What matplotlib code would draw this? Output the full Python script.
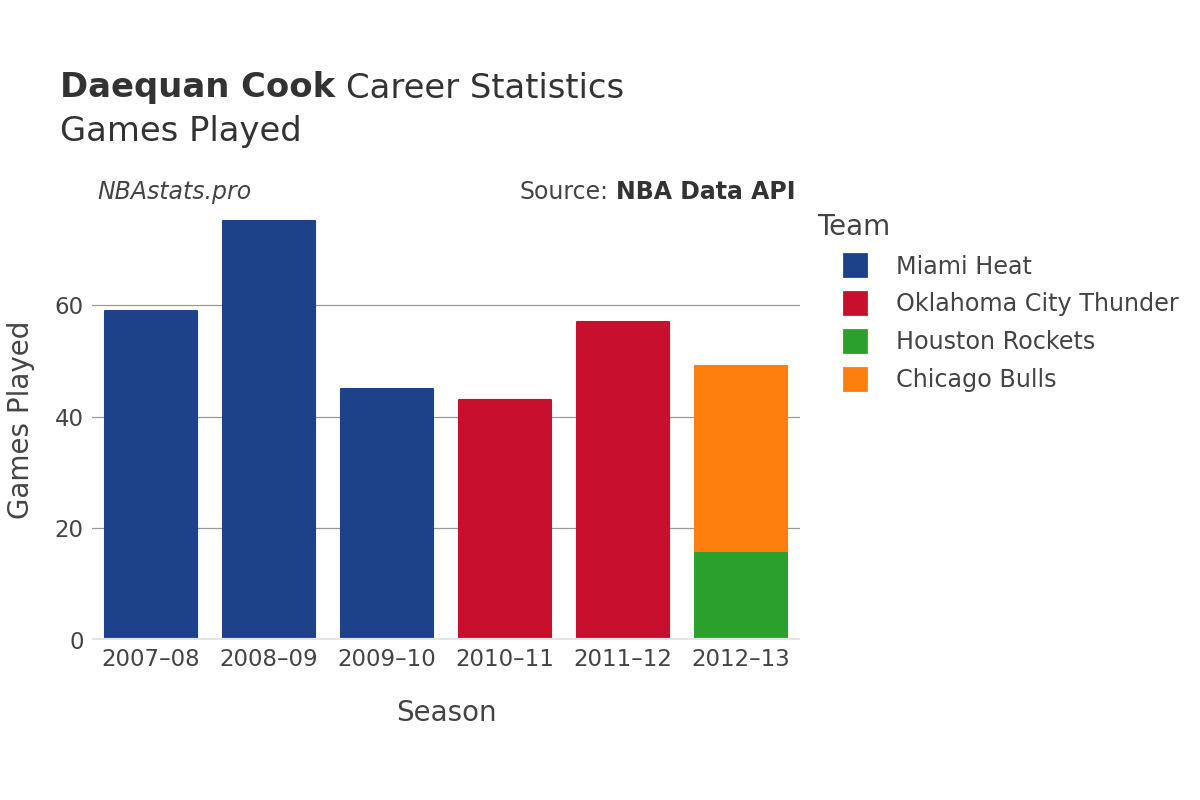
import matplotlib.pyplot as plt
from matplotlib.lines import Line2D

seasons = ["2007–08", "2008–09", "2009–10", "2010–11", "2011–12", "2012–13"]
teams = ["Miami Heat", "Oklahoma City Thunder", "Houston Rockets", "Chicago Bulls"]
colors = ["#1d428a", "#c8102e", "#2ca02c", "#ff7f0e"]
# games per team per season (0 = not with that team)
miami = [59, 75, 45, 0, 0, 0]
okc = [0, 0, 0, 43, 57, 0]
houston = [0, 0, 0, 0, 0, 16]
chicago = [0, 0, 0, 0, 0, 33]

fig = plt.figure(figsize=(12, 8), dpi=100)
ax = fig.add_axes([0.0767, 0.2, 0.59, 0.55])

bottom = [0] * len(seasons)
for vals, c in zip([miami, okc, houston, chicago], colors):
    xs = [i for i, v in enumerate(vals) if v > 0]
    hs = [vals[i] for i in xs]
    bs = [bottom[i] for i in xs]
    ax.bar(xs, hs, width=0.78, bottom=bs, color=c, edgecolor=c,
           linewidth=1.5, joinstyle="round", zorder=3)
    bottom = [b + v for b, v in zip(bottom, vals)]

ax.set_xlim(-0.5, 5.5)
ax.set_ylim(0, 78.8)
ax.set_yticks([0, 20, 40, 60])
ax.set_xticks(range(len(seasons)))
ax.set_xticklabels(seasons)
ax.grid(axis="y", color="#999999", linewidth=0.9, zorder=0)
ax.axhline(0, color="#e5e5e5", linewidth=3, zorder=4)
for s in ax.spines.values():
    s.set_visible(False)
ax.tick_params(length=0, labelsize=16.5, colors="#444444", pad=6)
ax.set_xlabel("Season", fontsize=20, color="#444444", labelpad=20)
ax.set_ylabel("Games Played", fontsize=20, color="#444444", labelpad=14)

r = fig.canvas.get_renderer()
t1 = fig.text(0.05, 0.89, "Daequan Cook", fontsize=24.4, fontweight="bold", color="#333333", va="center")
bb = t1.get_window_extent(r)
fig.text(bb.x1 / 1200 + 0.009, 0.89, "Career Statistics", fontsize=24.4, color="#333333", va="center")
fig.text(0.05, 0.835, "Games Played", fontsize=24.4, color="#333333", va="center")
fig.text(0.081, 0.76, "NBAstats.pro", fontsize=17, style="italic", color="#444444", va="center")
t2 = fig.text(0.663, 0.76, "NBA Data API", fontsize=17, fontweight="bold", color="#333333",
              va="center", ha="right")
bb2 = t2.get_window_extent(r)
fig.text(bb2.x0 / 1200 - 0.006, 0.76, "Source:", fontsize=17, color="#444444", va="center", ha="right")

handles = [Line2D([0], [0], marker="s", linestyle="", markersize=16, markerfacecolor=c,
                  markeredgecolor=c, markeredgewidth=2) for c in colors]
leg = fig.legend(handles, teams, title="Team", loc="upper left", bbox_to_anchor=(0.671, 0.749),
                 frameon=False, fontsize=17.2, title_fontsize=20, labelspacing=0.58,
                 handletextpad=0.08, borderpad=0, handlelength=3.2)
leg._legend_box.align = "left"
leg._legend_handle_box.sep = 0
for t in leg.get_texts():
    t.set_color("#444444")
leg.get_title().set_color("#444444")

fig.savefig("out.png", dpi=100)
